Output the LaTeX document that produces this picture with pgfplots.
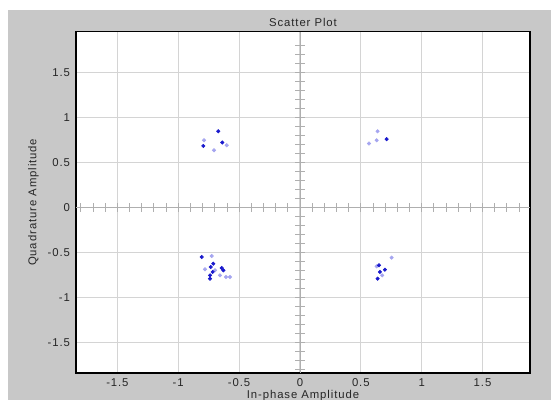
\documentclass[border=0pt]{standalone}
\usepackage{pgfplots}
\pgfplotsset{compat=1.18}
\usepackage{fontspec}
\setmainfont{Liberation Sans}[LetterSpace=8]
\definecolor{bg}{RGB}{200,200,200}
\definecolor{dk}{RGB}{25,25,205}
\definecolor{lt}{RGB}{165,165,240}
\definecolor{gridc}{RGB}{212,212,212}
\definecolor{crossc}{RGB}{175,175,175}
\begin{document}
\begin{tikzpicture}
\useasboundingbox (0pt,0pt) rectangle (413.25pt,300pt);
\fill[bg] (6pt,0pt) rectangle (413.25pt,292.5pt);
\begin{axis}[
  at={(57pt,20.25pt)}, anchor=south west,
  scale only axis, width=340.5pt, height=256pt,
  xmin=-1.84, xmax=1.89, ymin=-1.84, ymax=1.95,
  axis background/.style={fill=white},
  axis line style={black, line width=0.8pt},
  xtick={-1.5,-1,-0.5,0,0.5,1,1.5},
  ytick={-1.5,-1,-0.5,0,0.5,1,1.5},
  grid=major, major grid style={gridc, line width=0.7pt},
  tick style={draw=none},
  /pgf/number format/assume math mode=true,
  ticklabel style={font=\fontsize{8.5}{9}\selectfont, text=black!85},
  xticklabel style={yshift=-1pt},
  yticklabel style={xshift=-1pt},
  title={Scatter Plot},
  every axis title/.style={at={(axis description cs:0.5,1)}, anchor=center, yshift=6.6pt, font=\fontsize{8.5}{9}\selectfont, text=black!85},
  xlabel={In-phase Amplitude},
  ylabel={Quadrature Amplitude},
  every axis x label/.style={at={(axis description cs:0.5,0)}, anchor=center, yshift=-17pt, font=\fontsize{8.5}{9}\selectfont, text=black!85},
  every axis y label/.style={at={(axis description cs:-0.094,0.5)}, rotate=90, anchor=center, font=\fontsize{8.5}{9}\selectfont, text=black!85},
]
\draw[crossc, line width=0.6pt] (axis cs:-1.84,0) -- (axis cs:1.89,0);
\draw[crossc, line width=0.6pt] (axis cs:0,-1.84) -- (axis cs:0,1.95);
\pgfplotsinvokeforeach{-1.8,-1.7,-1.6,-1.5,-1.4,-1.3,-1.2,-1.1,-1.0,-0.9,-0.8,-0.7,-0.6,-0.5,-0.4,-0.3,-0.2,-0.1,0.1,0.2,0.3,0.4,0.5,0.6,0.7,0.8,0.9,1.0,1.1,1.2,1.3,1.4,1.5,1.6,1.7,1.8}{
  \draw[crossc, line width=0.6pt] (axis cs:#1,-0.05) -- (axis cs:#1,0.05);
  \draw[crossc, line width=0.6pt] (axis cs:-0.038,#1) -- (axis cs:0.038,#1);
}
\addplot[only marks, mark=*, mark size=1.3pt, lt, mark options={draw=lt, fill=lt}] coordinates {
(-0.788,0.744) (-0.602,0.689) (-0.706,0.633) (0.638,0.844) (0.63,0.744) (0.567,0.708)
(-0.725,-0.541) (-0.78,-0.689) (-0.657,-0.756) (-0.608,-0.774) (-0.575,-0.774) (-0.698,-0.7)
(0.753,-0.559) (0.63,-0.656) (0.676,-0.756)
};
\addplot[only marks, mark=*, mark size=1.3pt, dk, mark options={draw=dk, fill=dk}] coordinates {
(-0.671,0.844) (-0.794,0.681) (-0.638,0.719) (0.712,0.756)
(-0.807,-0.552) (-0.712,-0.626) (-0.733,-0.663) (-0.643,-0.674) (-0.629,-0.7) (-0.717,-0.718) (-0.739,-0.756) (-0.739,-0.793)
(0.649,-0.644) (0.698,-0.693) (0.657,-0.718) (0.638,-0.793)
};
\end{axis}
\end{tikzpicture}
\end{document}
